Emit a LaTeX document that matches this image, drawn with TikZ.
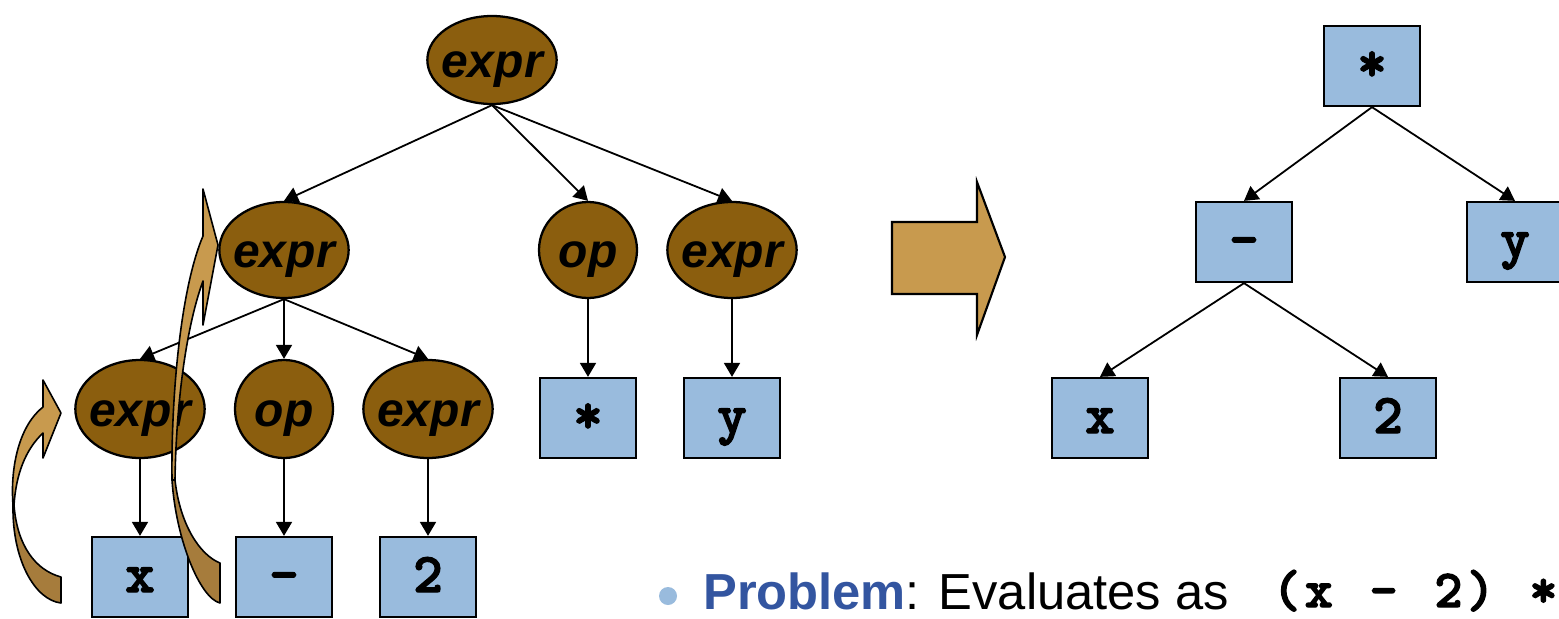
\documentclass[tikz,border=0pt]{standalone}
\usepackage{fontspec}
\setmainfont{Liberation Sans}
\newfontfamily\codefont{lmmonolt10-bold.otf}[FakeBold=2.5]
\usetikzlibrary{arrows.meta,shapes.geometric}
\definecolor{nodebrown}{RGB}{139,94,14}
\definecolor{boxblue}{RGB}{153,187,221}
\definecolor{arrowtan}{RGB}{200,154,78}
\definecolor{arrowdark}{RGB}{166,124,60}
\definecolor{probblue}{RGB}{51,85,160}
\newcommand\mch[1]{\makebox[24.3pt]{#1}}
\begin{document}
\begin{tikzpicture}[x=0.75pt,y=-0.75pt,
  gtext/.style={inner sep=0pt,text height=25.5pt,text depth=0pt,font=\fontsize{36}{40}\selectfont\bfseries\itshape},
  gnode/.style={ellipse,draw=black,line width=1.7pt,fill=nodebrown,inner sep=0pt,minimum width=97pt,minimum height=72pt,label={[gtext]center:#1}},
  tbox/.style={rectangle,draw=black,line width=1.7pt,fill=boxblue,minimum width=72pt,minimum height=60pt,inner sep=0pt,text height=22.5pt,text depth=0pt,font=\codefont\fontsize{42}{46}\selectfont},
  edge/.style={line width=1.35pt,-{Triangle[length=10.5pt,width=12pt]}},
  curv/.style={draw=black,line width=1.2pt,line join=round}]
\useasboundingbox (0,0) rectangle (1559,618);
\clip (0,0) rectangle (1559,618);

% left tree
\node[gnode=expr,minimum height=66pt] (e0) at (492,60) {};
\node[gnode=expr] (e1) at (284,250) {};
\node[gnode=op,minimum width=73.5pt] (o1) at (588,250) {};
\node[gnode=expr] (e2) at (732,250) {};
\node[gnode=expr,minimum height=73.5pt] (e3) at (140,409) {};
\node[gnode=op,minimum width=73.5pt,minimum height=73.5pt] (o3) at (284,409) {};
\node[gnode=expr,minimum height=73.5pt] (e4) at (428,409) {};
\node[tbox] (bx) at (140,577) {x};
\node[tbox] (bm) at (284,577) {-};
\node[tbox] (b2) at (428,577) {2};
\node[tbox] (bs) at (588,418) {*};
\node[tbox] (by) at (732,418) {y};

\draw[edge] (e0.south) -- (e1.north);
\draw[edge] (e0.south) -- (o1.north);
\draw[edge] (e0.south) -- (e2.north);
\draw[edge] (e1.south) -- (e3.north);
\draw[edge] (e1.south) -- (o3.north);
\draw[edge] (e1.south) -- (e4.north);
\draw[edge] (e3.south) -- (bx.north);
\draw[edge] (o3.south) -- (bm.north);
\draw[edge] (e4.south) -- (b2.north);
\draw[edge] (o1.south) -- (bs.north);
\draw[edge] (e2.south) -- (by.north);

% right tree
\node[tbox] (rs) at (1372,66) {*};
\node[tbox] (rm) at (1244,242) {-};
\node[tbox] (ry) at (1515,242) {y};
\node[tbox] (rx) at (1100,418) {x};
\node[tbox] (r2) at (1388,418) {2};
\draw[edge] (rs.south) -- (rm.north);
\draw[edge] (rs.south) -- (ry.north);
\draw[edge] (rm.south) -- (rx.north);
\draw[edge] (rm.south) -- (r2.north);

% big block arrow
\draw[fill=arrowtan,line width=1.6pt,line join=miter]
  (892,222) -- (977,222) -- (977,182) -- (1005,257) -- (977,335) -- (977,294) -- (892,294) -- cycle;

% small curved arrow
\path[curv,fill=arrowdark] (13,505) .. controls (12,560) and (35,600) .. (61,603) -- (61,577)
  .. controls (35,570) and (17,545) .. (14,505) -- cycle;
\path[curv,fill=arrowtan] (43,407) -- (43,380) -- (61,413) -- (43,458) -- (43,433)
  .. controls (25,450) and (16,475) .. (14,505) -- (13,505)
  .. controls (10,465) and (20,425) .. (43,407) -- cycle;

% big curved arrow
\path[curv,fill=arrowdark] (172,480) .. controls (176,540) and (200,598) .. (220,603) -- (220,563)
  .. controls (200,555) and (180,525) .. (175,480) -- cycle;
\path[curv,fill=arrowtan] (203,236) -- (203,189) -- (218,245) -- (203,325) -- (203,281)
  .. controls (185,330) and (176,410) .. (175,480) -- (172,480)
  .. controls (171,400) and (180,290) .. (203,236) -- cycle;

% bottom text
\fill[boxblue] (668,596) circle (6.75pt);
\node[anchor=base west,inner sep=0pt,font=\fontsize{38}{42}\selectfont] (prob) at (703,609)
  {{\color{probblue}\bfseries Problem}: Evaluates as};
\node[anchor=base west,inner sep=0pt,font=\codefont\fontsize{40}{44}\selectfont] (code) at (1270,607)
  {\mch{(}\mch{x}\mch{}\mch{-}\mch{}\mch{2}\mch{)}\mch{}*};
\end{tikzpicture}
\end{document}
